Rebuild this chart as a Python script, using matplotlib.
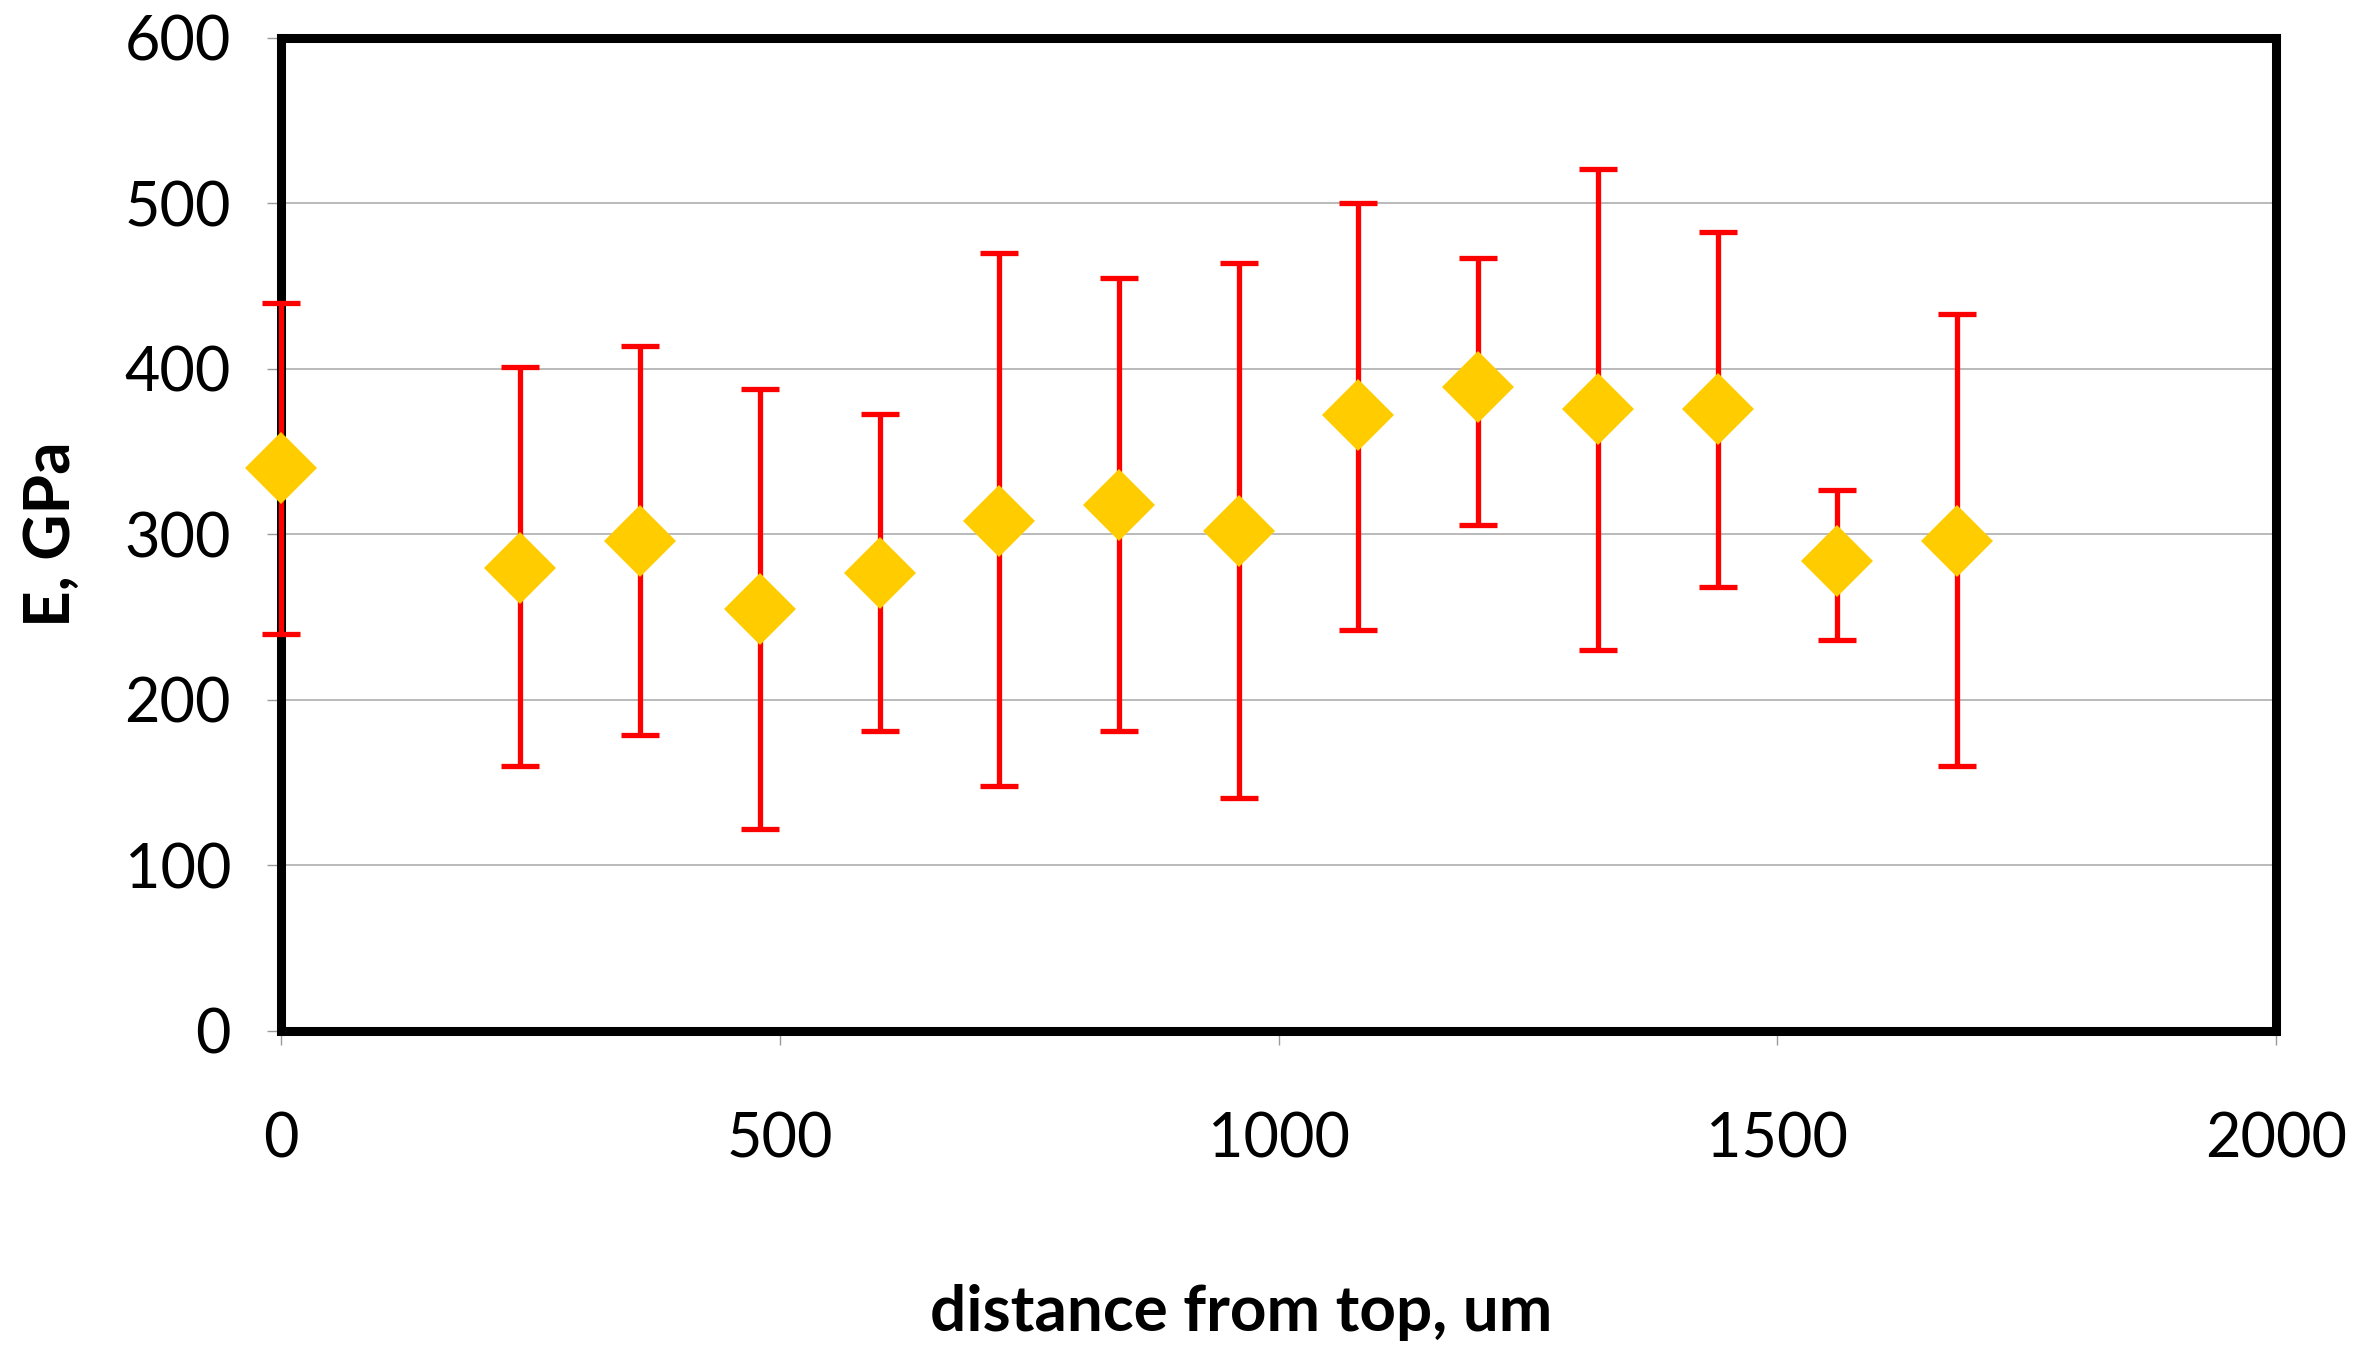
import numpy as np
import matplotlib
matplotlib.use('Agg')
import matplotlib.pyplot as plt

# distance from top (um) and modulus (GPa) with error bar ends
distance = [0, 240, 360, 480, 600, 720, 840, 960, 1080, 1200, 1320, 1440, 1560, 1680]
modulus = [340, 280, 296, 255, 277, 308, 318, 302, 372, 389, 376, 376, 284, 296]
err_top = [440, 401, 414, 388, 373, 470, 455, 464, 500, 467, 521, 483, 327, 433]
err_bottom = [240, 160, 179, 122, 181, 148, 181, 141, 242, 306, 230, 268, 236, 160]

x_ticks = [0, 500, 1000, 1500, 2000]
y_ticks = [0, 100, 200, 300, 400, 500, 600]

plt.rcParams['font.family'] = ['Lato', 'DejaVu Sans']

fig = plt.figure(figsize=(23.68, 13.56), dpi=100)
ax = fig.add_axes([0.1187, 0.2397, 0.8425, 0.7323])

y = np.array(modulus)
yerr = np.array([y - np.array(err_bottom), np.array(err_top) - y])

ax.errorbar(distance, modulus, yerr=yerr, fmt='none', ecolor='#ff0000',
            elinewidth=3.8, capsize=14, capthick=3.8, zorder=3, clip_on=False)
ax.plot(distance, modulus, linestyle='none', marker='D', markersize=37,
        color='#ffcc00', markeredgewidth=0, zorder=4, clip_on=False)

ax.set_xlim(0, 2000)
ax.set_ylim(0, 600)
ax.set_xticks(x_ticks)
ax.set_yticks(y_ticks)
ax.grid(axis='y', color='#b4b4b4', linewidth=1.3, zorder=0)
ax.set_axisbelow(True)

for side in ['top', 'right', 'left', 'bottom']:
    ax.spines[side].set_color('black')
    ax.spines[side].set_linewidth(6.5)

ax.tick_params(axis='both', direction='out', length=10, width=1, color='#9a9a9a',
               labelsize=44)
ax.tick_params(axis='x', pad=48)
ax.tick_params(axis='y', pad=26)

ax.set_xlabel('distance from top, um', fontsize=46, fontweight='bold')
ax.set_ylabel('E, GPa', fontsize=46, fontweight='bold')
ax.xaxis.set_label_coords(0.481, -0.255)
ax.yaxis.set_label_coords(-0.101, 0.5)

fig.savefig('out.png', dpi=100)
